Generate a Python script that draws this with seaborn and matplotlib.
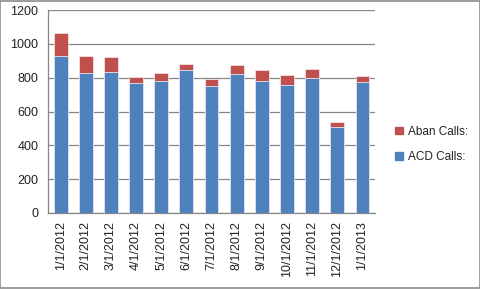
import matplotlib
matplotlib.use("Agg")
import matplotlib.pyplot as plt
import matplotlib.patches as mpatches
import seaborn as sns
import pandas as pd

months = ["1/1/2012", "2/1/2012", "3/1/2012", "4/1/2012", "5/1/2012", "6/1/2012",
          "7/1/2012", "8/1/2012", "9/1/2012", "10/1/2012", "11/1/2012", "12/1/2012",
          "1/1/2013"]
acd_calls = [930, 829, 835, 768, 780, 845, 750, 820, 780, 758, 797, 509, 776]
aban_calls = [135, 100, 87, 37, 49, 35, 43, 55, 65, 57, 54, 28, 35]
y_ticks = [0, 200, 400, 600, 800, 1000, 1200]

df = pd.DataFrame({"month": months, "acd": acd_calls, "aban": aban_calls})
df["total"] = df["acd"] + df["aban"]

sns.set_style("white")
plt.rcParams["font.family"] = ["Liberation Sans", "DejaVu Sans"]

blue = "#4F81BD"
red = "#C0504D"
grid_c = "#868686"

fig = plt.figure(figsize=(4.81, 2.89), dpi=100)
ax = fig.add_axes([0.0998, 0.263, 0.68, 0.702])

sns.barplot(data=df, x="month", y="total", color=red, width=0.55, ax=ax,
            saturation=1, edgecolor="#F4E0E0", linewidth=0.6, zorder=3)
sns.barplot(data=df, x="month", y="acd", color=blue, width=0.55, ax=ax,
            saturation=1, edgecolor="#E6E6EE", linewidth=0.6, zorder=4)

ax.set_ylim(0, 1200)
ax.set_xlim(-0.5, len(months) - 0.5)
ax.set_yticks(y_ticks)
ax.set_yticklabels([str(v) for v in y_ticks], fontsize=9, color="#222222")
ax.set_xticks(range(len(months)))
ax.set_xticklabels(months, rotation=90, fontsize=9, color="#222222")
ax.set_xticks([i - 0.5 for i in range(len(months) + 1)], minor=True)
ax.tick_params(axis="x", which="major", length=0, pad=6)
ax.tick_params(axis="x", which="minor", length=4, color=grid_c, width=0.8, direction="out")
ax.tick_params(axis="y", which="major", length=4, color=grid_c, width=0.8, direction="out", pad=3)
ax.set_xlabel("")
ax.set_ylabel("")
ax.yaxis.grid(True, color=grid_c, linewidth=0.9, zorder=0)
ax.set_axisbelow(True)
for s in ["top", "right"]:
    ax.spines[s].set_visible(False)
for s in ["left", "bottom"]:
    ax.spines[s].set_color(grid_c)
    ax.spines[s].set_linewidth(0.9)

handles = [mpatches.Patch(color=red, label="Aban Calls:"),
           mpatches.Patch(color=blue, label="ACD Calls:")]
fig.legend(handles=handles, loc="center left", bbox_to_anchor=(0.800, 0.50),
           frameon=False, fontsize=8.5, handlelength=0.6, handleheight=0.6,
           handletextpad=0.5, labelspacing=1.15, labelcolor="#222222")

border = mpatches.Rectangle((0.001, 0.002), 0.997, 0.995, transform=fig.transFigure,
                            fill=False, edgecolor="#8C8C8C", linewidth=1.2)
fig.patches.append(border)

fig.savefig("out.png", dpi=100)
